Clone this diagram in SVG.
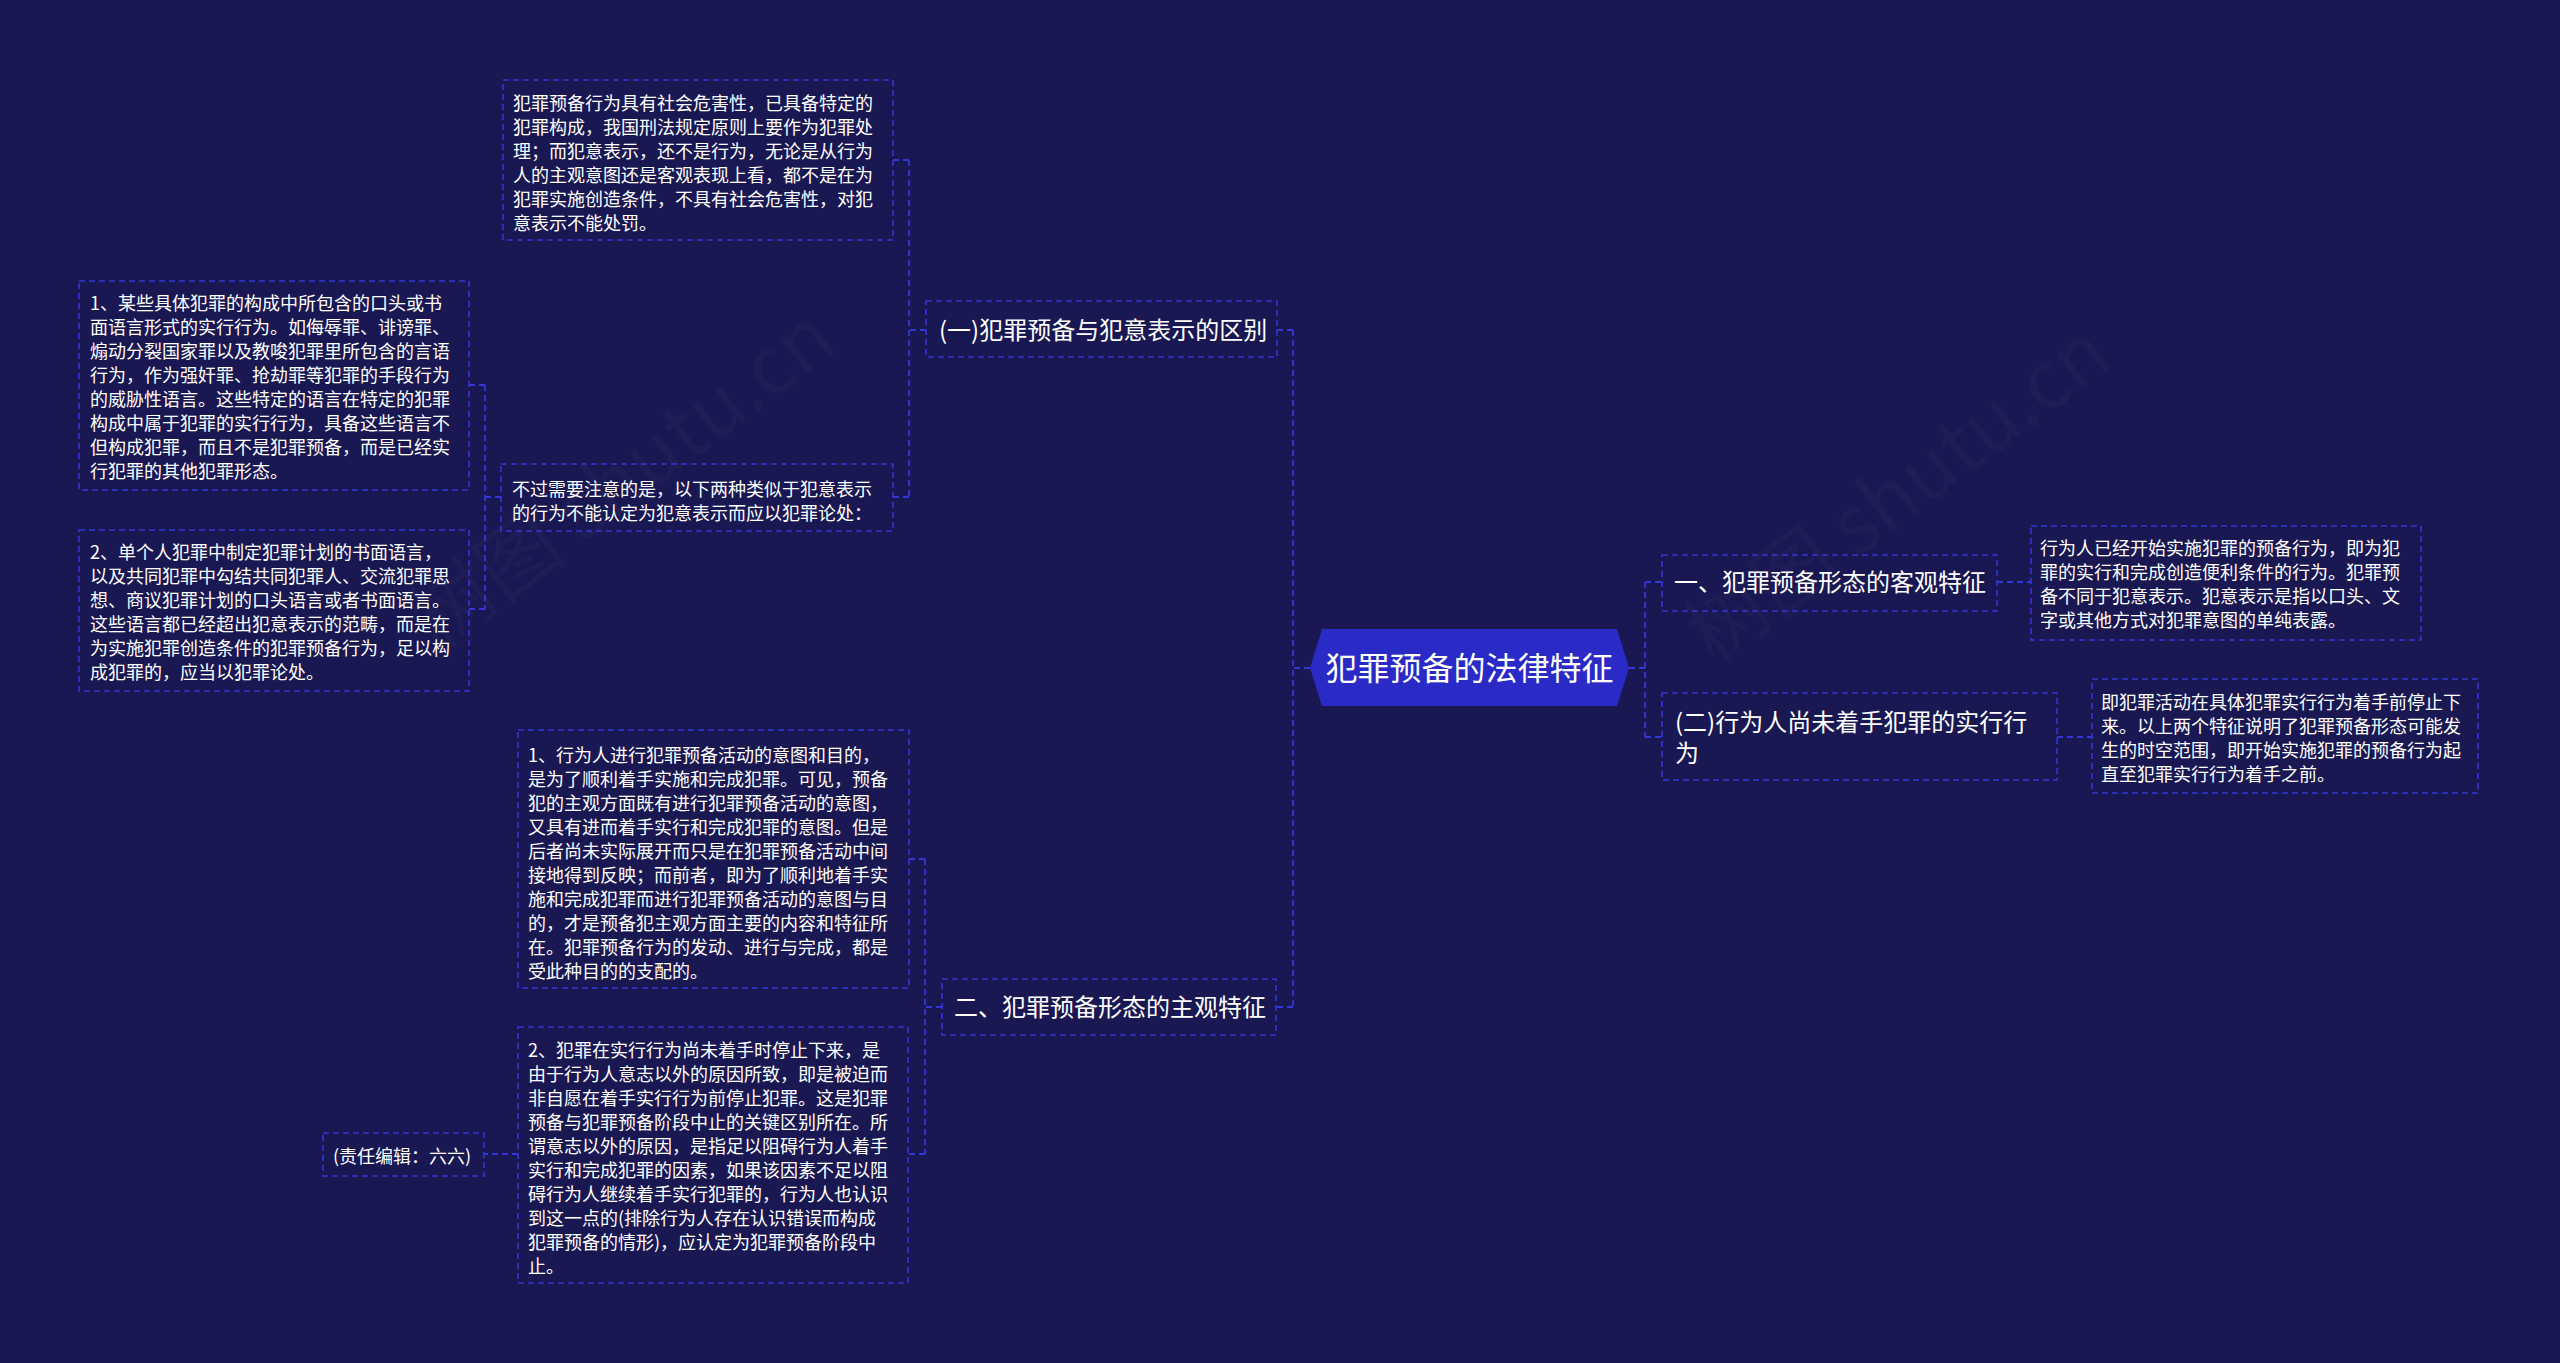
<svg xmlns="http://www.w3.org/2000/svg" width="2560" height="1363" viewBox="0 0 2560 1363">
<style>
.bg{fill:#1a1852}
.box{fill:none;stroke:#3636d6;stroke-width:1.6;stroke-dasharray:6 4}
.con{fill:none;stroke:#3636d6;stroke-width:1.8;stroke-dasharray:6 4}
.t18{font-family:"Noto Sans CJK SC","Noto Sans",sans-serif;font-size:18px;fill:#ffffff}
.t24{font-family:"Noto Sans CJK SC","Noto Sans",sans-serif;font-size:24px;fill:#ffffff}
.t32{font-family:"Noto Sans CJK SC","Noto Sans",sans-serif;font-size:32px;fill:#ffffff}
.wm{font-family:"Noto Sans CJK SC","Noto Sans",sans-serif;font-size:80px;fill:#ffffff;fill-opacity:0.022}
</style>
<rect class="bg" x="0" y="0" width="2560" height="1363"/>
<g id="watermarks">
<text class="wm" transform="translate(640,500) rotate(-37)" text-anchor="middle">树图 shutu.cn</text>
<text class="wm" transform="translate(1915,515) rotate(-37)" text-anchor="middle">树图 shutu.cn</text>
</g>
<g id="connectors">
<path class="con" d="M1310,668 H1293 M1293,330 V1007 M1293,330 H1277 M1293,1007 H1276"/>
<path class="con" d="M926,330 H909 M909,160 V497 M909,160 H893 M909,497 H893"/>
<path class="con" d="M501,497 H485 M485,385 V609 M485,385 H469 M485,609 H469"/>
<path class="con" d="M942,1007 H925 M925,859 V1154 M925,859 H909 M925,1154 H908 M518,1154 H484"/>
<path class="con" d="M1629,668 H1645 M1645,582 V737 M1645,582 H1662 M1645,737 H1662 M1997,582 H2031 M2057,737 H2092"/>
</g>
<g id="root">
<polygon points="1310,668 1322,629 1617,629 1629,668 1617,706 1322,706" fill="#2a2ac6"/>
<text class="t32" x="1469.5" y="680" text-anchor="middle">犯罪预备的法律特征</text>
</g>
<g id="n-objective">
<rect class="box" x="1662" y="555" width="335" height="56"/>
<text class="t24" x="1674" y="591">一、犯罪预备形态的客观特征</text>
</g>
<g id="n-objective-detail">
<rect class="box" x="2031" y="526" width="390" height="114"/>
<text class="t18" x="2040" y="555">行为人已经开始实施犯罪的预备行为，即为犯</text>
<text class="t18" x="2040" y="579">罪的实行和完成创造便利条件的行为。犯罪预</text>
<text class="t18" x="2040" y="603">备不同于犯意表示。犯意表示是指以口头、文</text>
<text class="t18" x="2040" y="627">字或其他方式对犯罪意图的单纯表露。</text>
</g>
<g id="n-not-started">
<rect class="box" x="1662" y="693" width="395" height="87"/>
<text class="t24" x="1675" y="731">(二)行为人尚未着手犯罪的实行行</text>
<text class="t24" x="1675" y="762">为</text>
</g>
<g id="n-not-started-detail">
<rect class="box" x="2092" y="679" width="386" height="114"/>
<text class="t18" x="2101" y="709">即犯罪活动在具体犯罪实行行为着手前停止下</text>
<text class="t18" x="2101" y="733">来。以上两个特征说明了犯罪预备形态可能发</text>
<text class="t18" x="2101" y="757">生的时空范围，即开始实施犯罪的预备行为起</text>
<text class="t18" x="2101" y="781">直至犯罪实行行为着手之前。</text>
</g>
<g id="n-distinction">
<rect class="box" x="926" y="301" width="351" height="56"/>
<text class="t24" x="939" y="339">(一)犯罪预备与犯意表示的区别</text>
</g>
<g id="n-distinction-main">
<rect class="box" x="503" y="80" width="390" height="160"/>
<text class="t18" x="513" y="110">犯罪预备行为具有社会危害性，已具备特定的</text>
<text class="t18" x="513" y="134">犯罪构成，我国刑法规定原则上要作为犯罪处</text>
<text class="t18" x="513" y="158">理；而犯意表示，还不是行为，无论是从行为</text>
<text class="t18" x="513" y="182">人的主观意图还是客观表现上看，都不是在为</text>
<text class="t18" x="513" y="206">犯罪实施创造条件，不具有社会危害性，对犯</text>
<text class="t18" x="513" y="230">意表示不能处罚。</text>
</g>
<g id="n-note">
<rect class="box" x="501" y="464" width="392" height="67"/>
<text class="t18" x="512" y="496">不过需要注意的是，以下两种类似于犯意表示</text>
<text class="t18" x="512" y="520">的行为不能认定为犯意表示而应以犯罪论处：</text>
</g>
<g id="n-note-1">
<rect class="box" x="79" y="281" width="390" height="209"/>
<text class="t18" x="90" y="310">1、某些具体犯罪的构成中所包含的口头或书</text>
<text class="t18" x="90" y="334">面语言形式的实行行为。如侮辱罪、诽谤罪、</text>
<text class="t18" x="90" y="358">煽动分裂国家罪以及教唆犯罪里所包含的言语</text>
<text class="t18" x="90" y="382">行为，作为强奸罪、抢劫罪等犯罪的手段行为</text>
<text class="t18" x="90" y="406">的威胁性语言。这些特定的语言在特定的犯罪</text>
<text class="t18" x="90" y="430">构成中属于犯罪的实行行为，具备这些语言不</text>
<text class="t18" x="90" y="454">但构成犯罪，而且不是犯罪预备，而是已经实</text>
<text class="t18" x="90" y="478">行犯罪的其他犯罪形态。</text>
</g>
<g id="n-note-2">
<rect class="box" x="79" y="530" width="390" height="161"/>
<text class="t18" x="90" y="559">2、单个人犯罪中制定犯罪计划的书面语言，</text>
<text class="t18" x="90" y="583">以及共同犯罪中勾结共同犯罪人、交流犯罪思</text>
<text class="t18" x="90" y="607">想、商议犯罪计划的口头语言或者书面语言。</text>
<text class="t18" x="90" y="631">这些语言都已经超出犯意表示的范畴，而是在</text>
<text class="t18" x="90" y="655">为实施犯罪创造条件的犯罪预备行为，足以构</text>
<text class="t18" x="90" y="679">成犯罪的，应当以犯罪论处。</text>
</g>
<g id="n-subjective">
<rect class="box" x="942" y="979" width="334" height="56"/>
<text class="t24" x="954" y="1016">二、犯罪预备形态的主观特征</text>
</g>
<g id="n-subjective-1">
<rect class="box" x="518" y="730" width="391" height="258"/>
<text class="t18" x="528" y="762">1、行为人进行犯罪预备活动的意图和目的，</text>
<text class="t18" x="528" y="786">是为了顺利着手实施和完成犯罪。可见，预备</text>
<text class="t18" x="528" y="810">犯的主观方面既有进行犯罪预备活动的意图，</text>
<text class="t18" x="528" y="834">又具有进而着手实行和完成犯罪的意图。但是</text>
<text class="t18" x="528" y="858">后者尚未实际展开而只是在犯罪预备活动中间</text>
<text class="t18" x="528" y="882">接地得到反映；而前者，即为了顺利地着手实</text>
<text class="t18" x="528" y="906">施和完成犯罪而进行犯罪预备活动的意图与目</text>
<text class="t18" x="528" y="930">的，才是预备犯主观方面主要的内容和特征所</text>
<text class="t18" x="528" y="954">在。犯罪预备行为的发动、进行与完成，都是</text>
<text class="t18" x="528" y="978">受此种目的的支配的。</text>
</g>
<g id="n-subjective-2">
<rect class="box" x="518" y="1027" width="390" height="256"/>
<text class="t18" x="528" y="1057">2、犯罪在实行行为尚未着手时停止下来，是</text>
<text class="t18" x="528" y="1081">由于行为人意志以外的原因所致，即是被迫而</text>
<text class="t18" x="528" y="1105">非自愿在着手实行行为前停止犯罪。这是犯罪</text>
<text class="t18" x="528" y="1129">预备与犯罪预备阶段中止的关键区别所在。所</text>
<text class="t18" x="528" y="1153">谓意志以外的原因，是指足以阻碍行为人着手</text>
<text class="t18" x="528" y="1177">实行和完成犯罪的因素，如果该因素不足以阻</text>
<text class="t18" x="528" y="1201">碍行为人继续着手实行犯罪的，行为人也认识</text>
<text class="t18" x="528" y="1225">到这一点的(排除行为人存在认识错误而构成</text>
<text class="t18" x="528" y="1249">犯罪预备的情形)，应认定为犯罪预备阶段中</text>
<text class="t18" x="528" y="1273">止。</text>
</g>
<g id="n-editor">
<rect class="box" x="323" y="1133" width="161" height="43"/>
<text class="t18" x="333" y="1163">(责任编辑：六六)</text>
</g>
</svg>
